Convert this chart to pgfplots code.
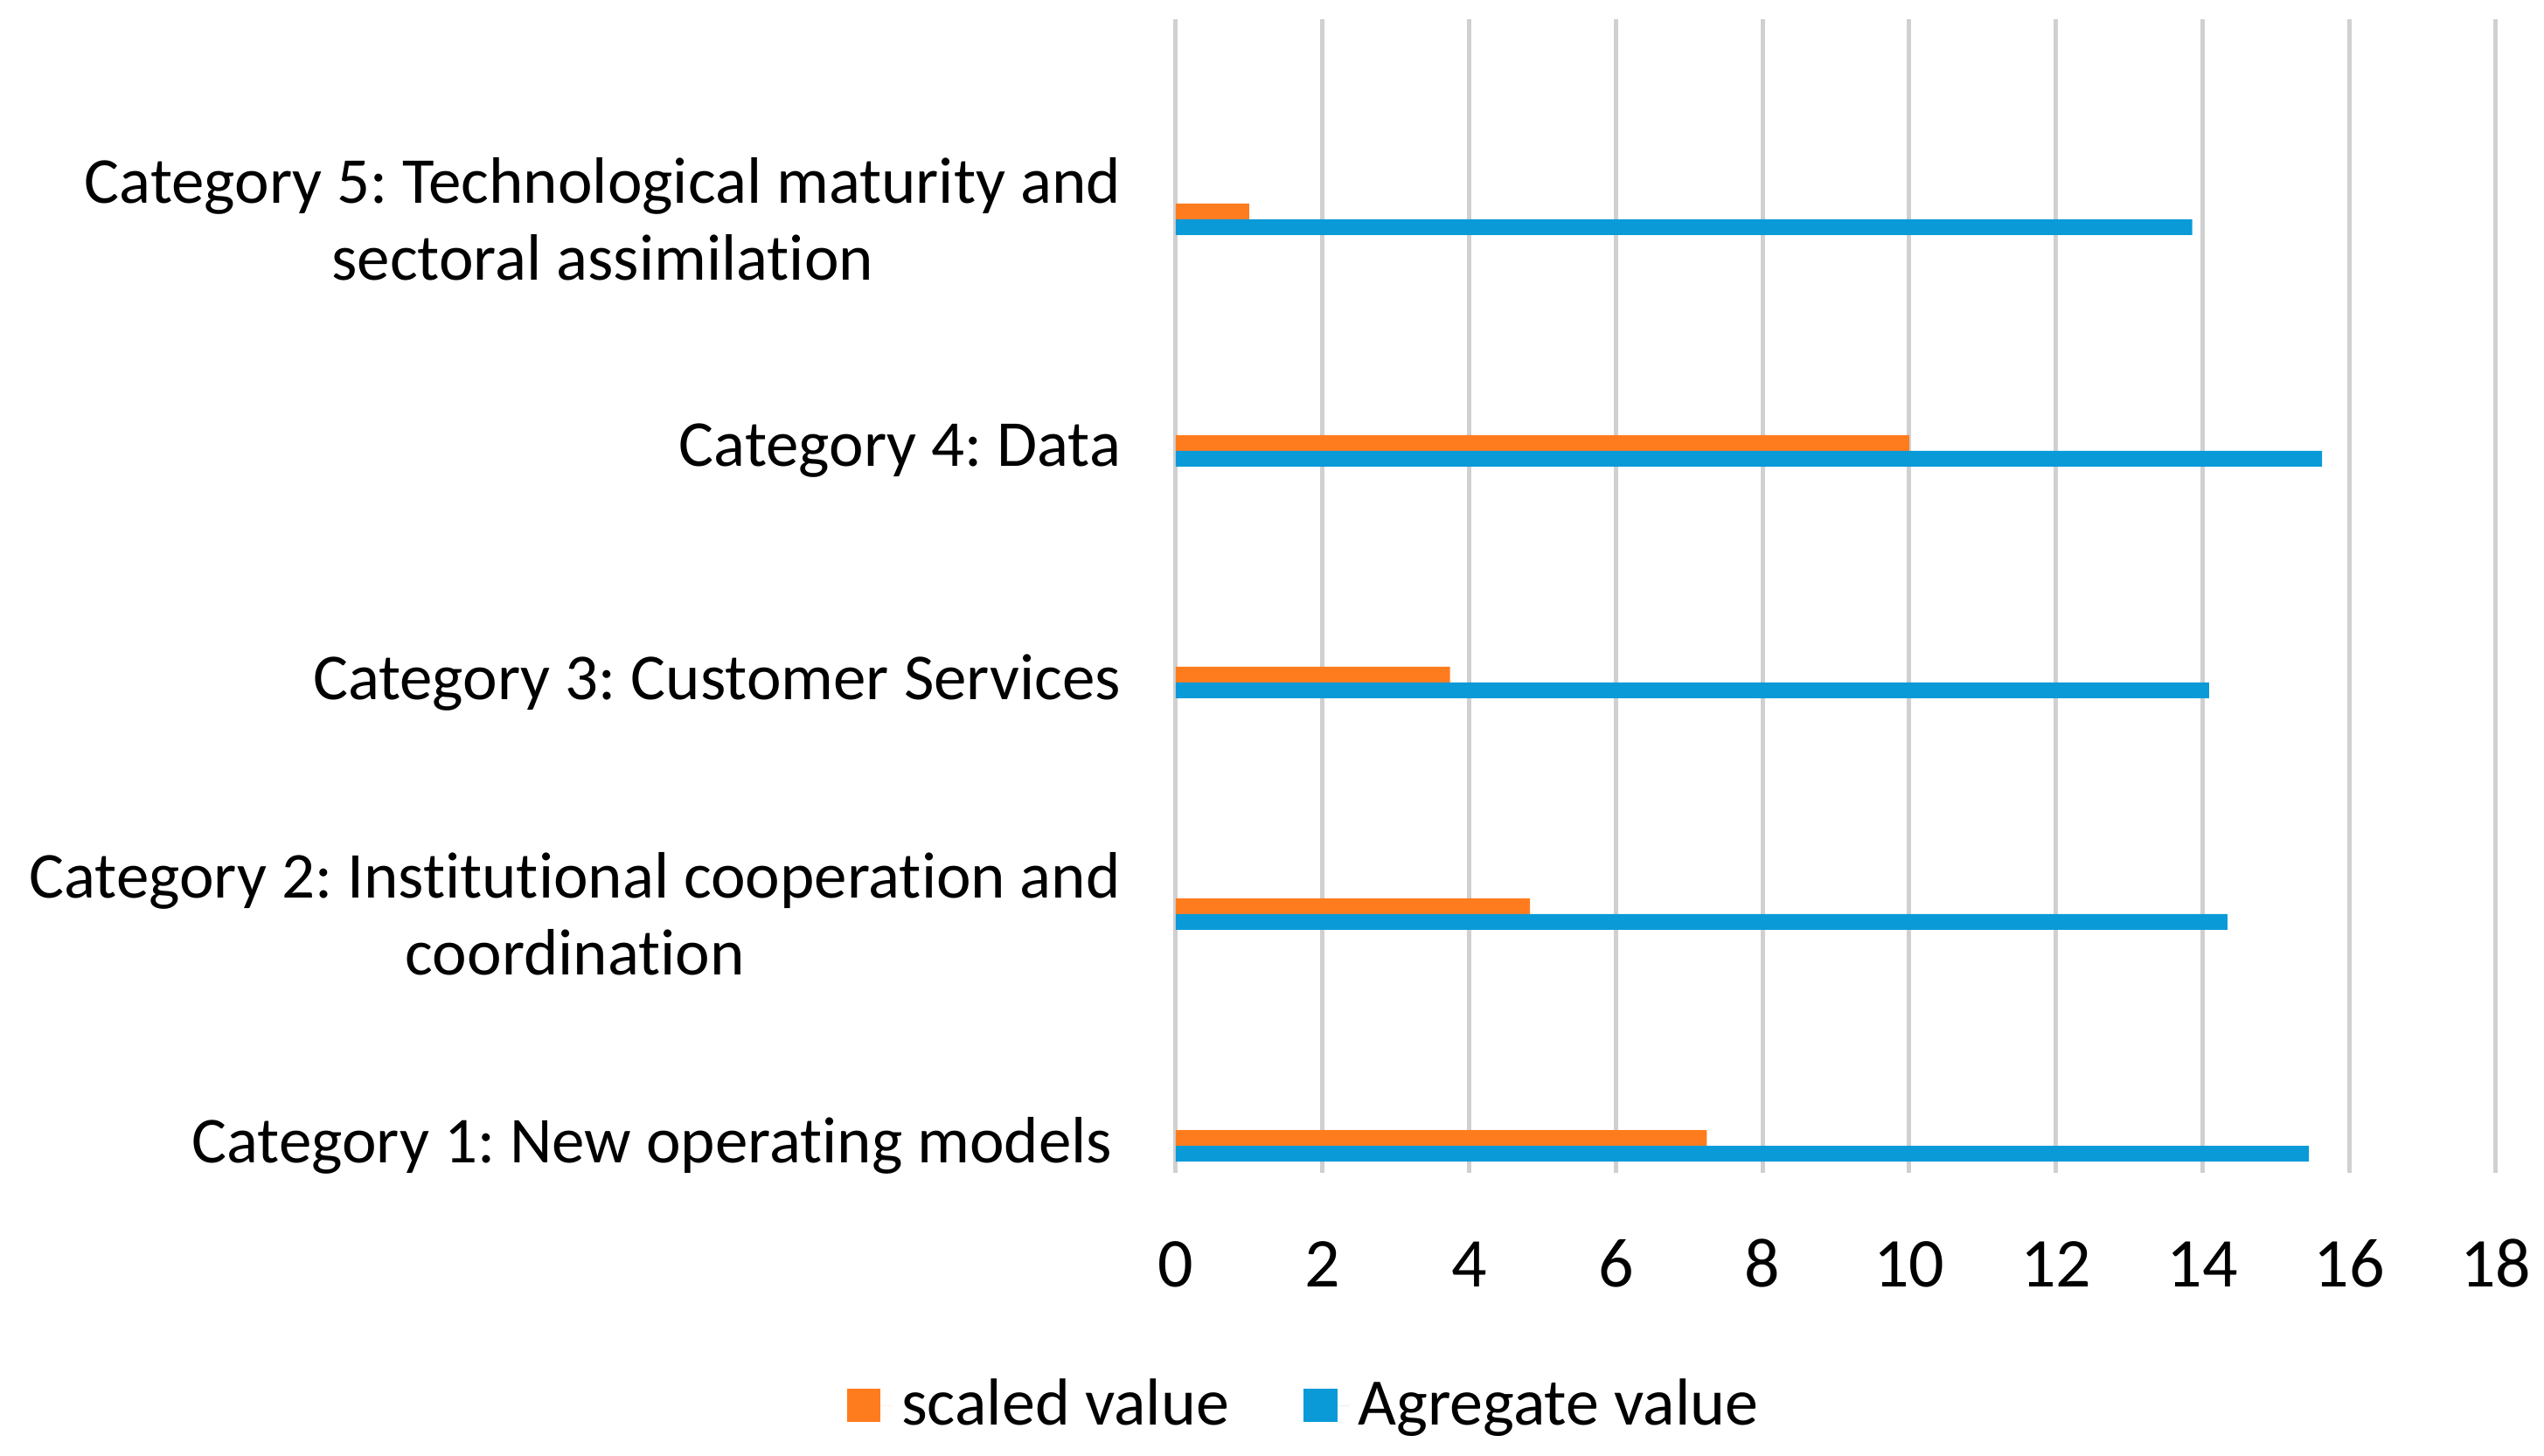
\documentclass[border=0pt]{standalone}
\usepackage{pgfplots}
\pgfplotsset{compat=1.18}
\usepackage{fontspec}
\setmainfont{Carlito}[Ligatures=NoCommon]
\frenchspacing

\definecolor{scaledorange}{RGB}{255,124,30}
\definecolor{aggblue}{RGB}{10,154,216}
\definecolor{gridgray}{RGB}{208,208,208}

\begin{document}
\begin{tikzpicture}
  % 1 px of the reference = 0.2pt
  \useasboundingbox (0,0) rectangle (582pt,333pt);
  \begin{axis}[
    at={(269pt,64.6pt)}, anchor=south west,
    scale only axis,
    width=302pt, height=264pt,
    xbar, bar width=3.6pt,
    xmin=0, xmax=18,
    ymin=0.883, ymax=5.864,
    xtick={0,2,...,18},
    ytick={1,2,3,4,5},
    yticklabels={
      {Category 1: New operating models\hspace*{2pt}},
      {Category 2: Institutional cooperation and\\coordination},
      {Category 3: Customer Services},
      {Category 4: Data},
      {Category 5: Technological maturity and\\sectoral assimilation}},
    axis line style={draw=none},
    major tick length=0pt,
    xmajorgrids,
    major grid style={draw=gridgray, line width=1pt},
    /pgf/number format/assume math mode=true,
    xticklabel style={font=\fontsize{16pt}{19pt}\selectfont, anchor=base, inner sep=0pt, yshift=-26pt},
    yticklabel style={font=\fontsize{15pt}{17.6pt}\selectfont, align=center, anchor=east, inner sep=0pt, xshift=-12.4pt},
    legend style={at={(0.0993,-0.2015)}, anchor=center, draw=none, fill=none,
      legend columns=2, font=\fontsize{15.2pt}{18pt}\selectfont,
      /tikz/every even column/.append style={column sep=15pt}},
    legend image code/.code={\fill[#1] (0pt,-3.85pt) rectangle (7.7pt,3.85pt);
      \path (0pt,0pt) -- (10.5pt,0pt);},
  ]
    \addplot[fill=scaledorange, draw=none, bar shift=1.8pt]
      coordinates {(7.24,1) (4.83,2) (3.74,3) (10.0,4) (1.0,5)};
    \addlegendentry{scaled value}
    \addplot[fill=aggblue, draw=none, bar shift=-1.8pt]
      coordinates {(15.45,1) (14.34,2) (14.09,3) (15.63,4) (13.86,5)};
    \addlegendentry{Agregate value}
  \end{axis}
\end{tikzpicture}
\end{document}
